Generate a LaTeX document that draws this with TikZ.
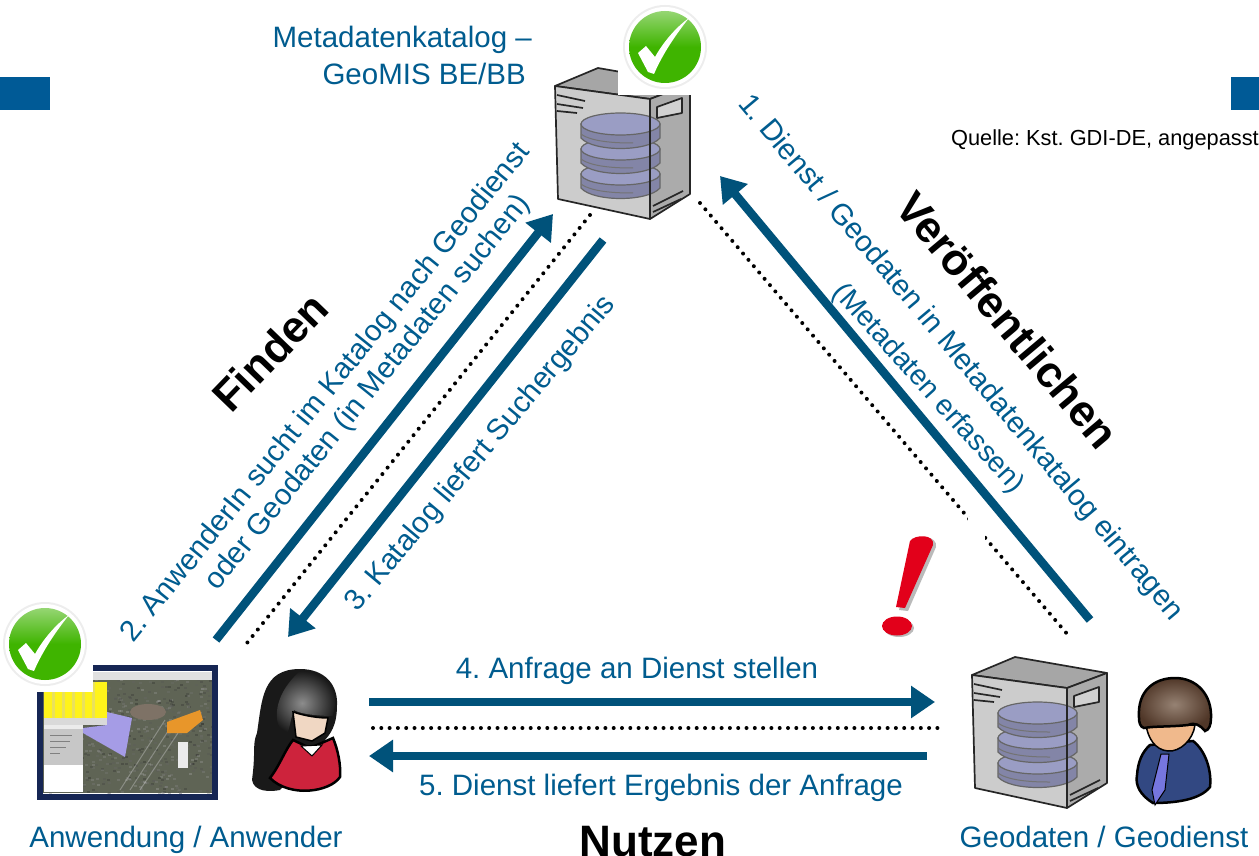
\documentclass[tikz,border=0pt]{standalone}
\usepackage{fontspec}
\setmainfont{Liberation Sans}
\usetikzlibrary{arrows.meta}
\definecolor{flow}{HTML}{00527A}
\definecolor{txt}{HTML}{005C8F}
\definecolor{bar}{HTML}{005A96}
\definecolor{disk}{HTML}{9A9DC4}
\definecolor{okgreen}{HTML}{3FB400}
\definecolor{mapbase}{HTML}{5F6455}
\definecolor{lav}{RGB}{165,156,230}
\definecolor{orng}{RGB}{232,150,42}
\definecolor{navy}{RGB}{22,38,84}
\definecolor{dress}{RGB}{205,35,60}
\definecolor{skinf}{RGB}{240,215,195}
\definecolor{suit}{RGB}{50,72,130}
\definecolor{skinm}{RGB}{240,185,140}
\definecolor{hairin}{RGB}{150,130,115}
\definecolor{hairout}{RGB}{80,55,40}
\definecolor{excl}{RGB}{226,0,26}
\tikzset{
  x=1pt,y=-1pt,
  flowarrow/.style={draw=flow,line width=8.5pt,-{Triangle[length=24pt,width=31pt]}},
  dotline/.style={draw=black,line width=4pt,line cap=round,dash pattern=on 0pt off 8.3pt},
  lbl/.style={text=txt,font=\fontsize{29.5}{32}\selectfont\frenchspacing,inner sep=0pt},
  big/.style={text=black,font=\fontsize{44}{48}\selectfont\bfseries,inner sep=0pt},
  srv/.style={draw=black!85,line width=1.7pt,line join=round},
  pics/server/.style={code={
    \fill[srv,fill=black!35] (972,675) -- (1015,657) -- (1107,673) -- (1067,688) -- cycle;
    \fill[srv,fill=black!20] (972,675) -- (1067,688) -- (1067,808) -- (975,788) -- cycle;
    \fill[srv,fill=black!33] (1067,688) -- (1107,673) -- (1107,783) -- (1067,808) -- cycle;
    \draw[srv,fill=black!18] (1074,696) -- (1099,687) -- (1099,702) -- (1074,707) -- cycle;
    \draw[srv] (974,684) -- (1002,690) (974,693) -- (1000,697) (974,700) -- (994,702)
               (1070,795) -- (1100,780) (1070,801) -- (1098,788);
    \foreach \yy in {770,745,720}{
      \fill[disk!85!black,draw=black!60,line width=1.2pt]
        (998,\yy-7) -- (998,\yy+7) .. controls (1010,\yy+21) and (1065,\yy+21) .. (1077,\yy+7) -- (1077,\yy-7) -- cycle;
      \fill[disk,draw=black!60,line width=1.2pt] (1037.5,\yy-7) ellipse [x radius=39.5pt,y radius=11pt];
      \draw[black!55,line width=1pt] (998,\yy+3) .. controls (1010,\yy+12) and (1040,\yy+12) .. (1050,\yy+12);
    }
    \draw[srv] (1067,688) -- (1067,808);
  }},
  pics/okmark/.style={code={
    \fill[black!7] (0,0) circle[radius=42pt];
    \fill[white] (0,0) circle[radius=40pt];
    \shade[top color=okgreen!55!white,bottom color=okgreen,middle color=okgreen] (0,0) circle[radius=36pt];
    \fill[white] (-27,6) -- (-19,-1) -- (-10,10) .. controls (0,-8) and (14,-22) .. (24,-29)
      .. controls (12,-14) and (-2,6) .. (-11,27) -- (-17,25) -- cycle;
  }}
}
\begin{document}
\begin{tikzpicture}
\useasboundingbox (0,0) rectangle (1259,856);
\clip (0,0) rectangle (1259,856);
\fill[white] (0,0) rectangle (1259,856);

% corner bars
\fill[bar] (0,77) rectangle (50,110);
\fill[bar] (1231,77) rectangle (1259,110);

% metadata server
\begin{scope}[shift={(-417,-589)}]
  \pic {server};
\end{scope}
\fill[white] (618,0) rectangle (712,95);
\pic at (665,47) {okmark};

% geodata server
\pic {server};

% map application
\begin{scope}
  \clip (43,672) rectangle (212,793);
  \fill[mapbase] (43,672) rectangle (212,793);
  \pgfmathsetseed{4711}
  \foreach \i in {1,...,700}{
    \pgfmathsetmacro{\mx}{43+rnd*169}
    \pgfmathsetmacro{\my}{672+rnd*121}
    \pgfmathsetmacro{\mg}{int(30+rnd*60)}
    \fill[black!\mg!white,opacity=.3] (\mx,\my) rectangle (\mx+3,\my+2);
  }
  \fill[black!35!brown!30!gray] (148,712) ellipse [x radius=18pt,y radius=8pt];
  \draw[black!20,line width=1pt,opacity=.4] (120,790) -- (165,720) (130,790) -- (172,725) (140,790) -- (180,730);
\end{scope}
\fill[black!12] (43,672) rectangle (212,680);
\fill[yellow!90!white] (44,682) rectangle (107,718);
\foreach \xx in {52,62,72,82,92}{\fill[yellow!75!gray!80!white] (\xx,682) rectangle (\xx+3,718);}
\fill[black!15] (44,718) rectangle (107,725);
\fill[black!22] (44,729) rectangle (83,765);
\draw[black!50,line width=.8pt] (50,735) -- (72,735) (50,741) -- (70,741) (50,747) -- (66,747) (50,753) -- (60,753);
\fill[white] (44,765) rectangle (83,792);
\fill[black!8] (44,725) rectangle (83,729);
\fill[lav] (107,712) -- (132,718) -- (125,757) -- (83,733) -- (83,728) -- (107,725) -- cycle;
\fill[orng] (167,722) -- (200,710) -- (203,720) -- (187,733) -- (167,733) -- cycle;
\fill[black!8] (178,742) rectangle (188,768);
\draw[draw=navy,line width=5.5pt] (40,668) rectangle (215,797);
\fill[white] (0,600) rectangle (93,692);
\pic at (45,644) {okmark};

% female user
\fill[black!90] (252,780) .. controls (256,750) and (252,745) .. (257,733)
  .. controls (262,700) and (262,669) .. (300,669)
  .. controls (325,669) and (338,685) .. (337,705)
  .. controls (337,720) and (334,730) .. (325,740) -- (280,790) .. controls (270,792) and (254,792) .. (252,780) -- cycle;
\shade[inner color=black!45,outer color=black!90] (300,671) .. controls (325,671) and (336,685) .. (335,705)
  -- (333,716) .. controls (318,716) and (300,714) .. (294,710) .. controls (290,720) and (290,730) .. (286,735)
  .. controls (275,730) and (268,700) .. (300,671) -- cycle;
\fill[draw=black,line width=2.5pt,fill=dress]
  (293,740) -- (310,748) -- (333,738) .. controls (338,750) and (341,765) .. (340,777)
  .. controls (330,792) and (290,798) .. (270,778) .. controls (280,765) and (285,750) .. (293,740) -- cycle;
\fill[white,draw=black,line width=1pt] (301,746) -- (322,745) -- (312,756) -- cycle;
\fill[skinf,draw=black,line width=1.5pt] (293,712) .. controls (305,716) and (318,718) .. (328,718)
  -- (325,733) -- (312,741) -- (296,737) -- cycle;

% male user
\fill[draw=black,line width=2.5pt,fill=suit]
  (1150,745) -- (1193,741) .. controls (1205,750) and (1212,770) .. (1210,787)
  .. controls (1200,800) and (1175,803) .. (1153,803)
  .. controls (1140,795) and (1135,785) .. (1137,775) .. controls (1138,762) and (1142,752) .. (1150,745) -- cycle;
\fill[skinm,draw=black,line width=1.5pt]
  (1146,725) -- (1195,725) .. controls (1193,740) and (1180,752) .. (1168,751) .. controls (1155,750) and (1148,738) .. (1146,725) -- cycle;
\shade[draw=black,line width=2.5pt,inner color=hairin,outer color=hairout]
  (1139,718) .. controls (1137,690) and (1155,678) .. (1175,678)
  .. controls (1197,678) and (1212,695) .. (1211,718) .. controls (1211,725) and (1209,730) .. (1205,731)
  .. controls (1200,725) and (1195,722) .. (1188,725) .. controls (1170,727) and (1155,726) .. (1144,728) .. controls (1140,727) and (1139,722) .. (1139,718) -- cycle;
\fill[draw=black,line width=1pt,fill=blue!55!white!75!gray] (1161,754) -- (1169,754) -- (1167,772) -- (1165,790) -- (1155,805) -- (1152,790) -- (1157,770) -- cycle;

% exclamation mark
\fill[black!45,opacity=.6] (913,541) .. controls (918,534) and (938,536) .. (936,547) -- (908,611) -- (899,610) -- cycle;
\fill[black!45,opacity=.6] (899,628) ellipse [x radius=15pt,y radius=9pt];
\fill[excl] (910,541) .. controls (915,534) and (935,534) .. (933,545) -- (905,608) -- (896,607) -- cycle;
\fill[excl] (897,626) ellipse [x radius=15pt,y radius=9.5pt];

% connector end points
\coordinate (p1s) at (1090,620); \coordinate (p1e) at (720,176);
\coordinate (p2s) at (216,640);  \coordinate (p2e) at (553,214);
\coordinate (p3s) at (603,240);  \coordinate (p3e) at (288,637);
\coordinate (p4s) at (369,702);  \coordinate (p4e) at (935,702);
\coordinate (p5s) at (927,756);  \coordinate (p5e) at (369,756);
\coordinate (d1s) at (700,203);  \coordinate (d1e) at (1068,635);
\coordinate (d2s) at (590,215);  \coordinate (d2e) at (243,648);
\coordinate (d3s) at (373,728);  \coordinate (d3e) at (945,728);

\draw[flowarrow] (p1s) -- (p1e);
\draw[flowarrow] (p2s) -- (p2e);
\draw[flowarrow] (p3s) -- (p3e);
\draw[flowarrow] (p4s) -- (p4e);
\draw[flowarrow] (p5s) -- (p5e);
\path[dotline,draw] (d1s) -- (d1e);
\path[dotline,draw] (d2s) -- (d2e);
\path[dotline,draw] (d3s) -- (d3e);
\fill[white] (968,517) rectangle (985,540);

% labels
\node[lbl,anchor=east] (t1) at (532,40) {Metadatenkatalog –};
\node[lbl,anchor=east] (t2) at (526,74) {GeoMIS BE/BB};
\node[inner sep=0pt,anchor=east,font=\fontsize{21.8}{24}\selectfont\frenchspacing] (src) at (1259,140) {Quelle: Kst. GDI-DE, angepasst};
\node[lbl,rotate=-50] (l1) at (960,358) {1. Dienst / Geodaten in Metadatenkatalog eintragen};
\node[lbl,rotate=-48,font=\fontsize{28.5}{32}\selectfont] (l1b) at (928,389) {(Metadaten erfassen)};
\node[big,rotate=-50] (veroef) at (1008,320) {Veröffentlichen};
\node[big,rotate=46] (find) at (270,352) {Finden};
\node[lbl,rotate=51] (l2) at (326,393) {2. AnwenderIn sucht im Katalog nach Geodienst};
\node[lbl,rotate=51] (l2b) at (368,393) {oder Geodaten (in Metadaten suchen)};
\node[lbl,rotate=50] (l3) at (481,454) {3. Katalog liefert Suchergebnis};
\node[lbl,anchor=base] (l4) at (637,678) {4. Anfrage an Dienst stellen};
\node[lbl,anchor=base] (l5) at (661,795) {5. Dienst liefert Ergebnis der Anfrage};
\node[lbl,anchor=base] (c1) at (186,847) {Anwendung / Anwender};
\node[big] (c2) at (653,842) {Nutzen};
\node[lbl,anchor=base] (c3) at (1104,847) {Geodaten / Geodienst};
\end{tikzpicture}
\end{document}
